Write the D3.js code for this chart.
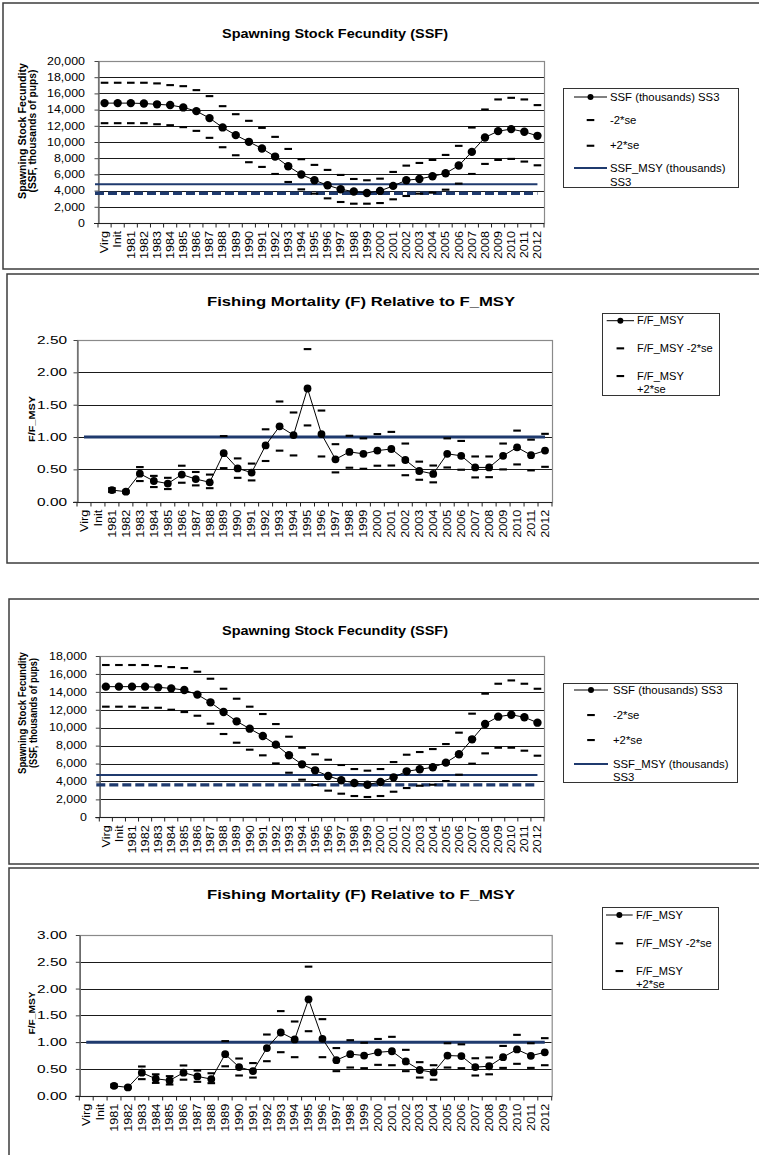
<!DOCTYPE html>
<html><head><meta charset="utf-8">
<script src="https://cdn.jsdelivr.net/npm/d3@7"></script>
<style>
body{margin:0;background:#fff}
svg{display:block}
text{font-family:"Liberation Sans",Arial,sans-serif;fill:#000}
</style>
</head><body>
<svg id="c" width="759" height="1155"></svg>
<script>
// ---------- DATA ----------
const categories = ["Virg","Init","1981","1982","1983","1984","1985","1986","1987","1988","1989","1990",
  "1991","1992","1993","1994","1995","1996","1997","1998","1999","2000","2001","2002","2003","2004",
  "2005","2006","2007","2008","2009","2010","2011","2012"];

// Panel 1: SSF (thousands) SS3
const ssfA = [14800,14800,14800,14750,14650,14560,14270,13810,12950,11800,10850,10020,9200,8200,7010,5980,5280,4660,4160,3880,3710,3960,4580,5280,5440,5770,6140,7090,8780,10560,11340,11590,11260,10760];
const ssfLoA = [12330,12330,12330,12330,12200,12080,11840,11380,10520,9360,8370,7510,6930,6060,5070,4160,3630,3050,2600,2390,2390,2470,2930,3340,3630,3750,4120,4870,6060,7300,7790,7920,7590,7130];
const ssfHiA = [17320,17320,17320,17320,17240,17030,16900,16410,15670,14430,13440,12620,11750,10640,9150,7880,7180,6560,5940,5440,5280,5480,6310,7090,7420,7790,8410,9530,11790,14020,15260,15460,15260,14560];
const ssfMsyA = 4780;
const ssfThreshA = 3670;
const ssfTicksA = [0,2000,4000,6000,8000,10000,12000,14000,16000,18000,20000];

// Panel 2: F/F_MSY
const fA = [null,null,0.18,0.155,0.433,0.32,0.28,0.42,0.35,0.30,0.75,0.515,0.45,0.87,1.165,1.03,1.75,1.046,0.655,0.77,0.74,0.79,0.815,0.645,0.475,0.43,0.74,0.71,0.53,0.53,0.71,0.84,0.72,0.79];
const fLoA = [null,null,0.15,0.14,0.32,0.227,0.196,0.294,0.253,0.21,0.52,0.37,0.33,0.63,0.79,0.716,1.18,0.70,0.454,0.526,0.51,0.557,0.56,0.41,0.34,0.30,0.53,0.495,0.376,0.38,0.50,0.577,0.485,0.54];
const fHiA = [null,null,0.21,0.17,0.536,0.40,0.37,0.557,0.46,0.42,1.015,0.67,0.59,1.12,1.55,1.38,2.36,1.41,0.89,1.02,0.98,1.046,1.08,0.90,0.62,0.56,0.98,0.94,0.70,0.70,0.90,1.10,0.96,1.05];
const fRefA = 1.0;
const fTicksA = [0,0.5,1.0,1.5,2.0,2.5];

// Panel 3: SSF (thousands) SS3
const ssfB = [14580,14580,14580,14580,14500,14390,14200,13690,12830,11750,10710,9890,9070,8110,6920,5910,5240,4610,4130,3830,3640,3940,4460,5130,5360,5580,6100,7030,8700,10410,11230,11450,11160,10560];
const ssfLoB = [12350,12350,12350,12230,12230,12010,11750,11340,10450,9300,8330,7550,6920,6020,4980,4200,3610,2980,2640,2380,2270,2380,2860,3270,3530,3640,4050,4760,5990,7140,7770,7770,7440,6880];
const ssfHiB = [17000,17000,17000,17000,16880,16770,16660,16250,15470,14350,13240,12350,11530,10410,9000,7770,7030,6430,5840,5390,5210,5390,6170,6990,7290,7620,8180,9450,11570,13800,14910,15280,14910,14350];
const ssfMsyB = 4720;
const ssfThreshB = 3610;
const ssfTicksB = [0,2000,4000,6000,8000,10000,12000,14000,16000,18000];

// Panel 4: F/F_MSY
const fB = [null,null,0.185,0.154,0.43,0.316,0.285,0.43,0.36,0.31,0.776,0.534,0.46,0.89,1.18,1.05,1.80,1.062,0.664,0.776,0.75,0.81,0.83,0.64,0.48,0.434,0.75,0.74,0.534,0.55,0.72,0.863,0.745,0.81];
const fLoB = [null,null,0.16,0.14,0.31,0.24,0.21,0.30,0.26,0.235,0.55,0.378,0.34,0.645,0.813,0.72,1.205,0.72,0.459,0.527,0.515,0.577,0.57,0.459,0.34,0.30,0.527,0.515,0.378,0.40,0.52,0.596,0.52,0.57];
const fHiB = [null,null,0.21,0.17,0.546,0.40,0.366,0.565,0.47,0.42,1.02,0.695,0.61,1.143,1.58,1.386,2.41,1.43,0.89,1.037,0.99,1.06,1.10,0.857,0.627,0.57,0.98,0.96,0.70,0.714,0.93,1.137,0.98,1.075];
const fRefB = 1.0;
const fTicksB = [0,0.5,1.0,1.5,2.0,2.5,3.0];

const titleSSF = "Spawning Stock Fecundity (SSF)";
const titleF = "Fishing Mortality (F) Relative to F_MSY";
const ylabSSF = ["Spawning Stock Fecundity", "(SSF, thousands of pups)"];
const ylabF = "F/F_MSY";
const legendSSF = ["SSF (thousands) SS3", "-2*se", "+2*se", "SSF_MSY (thousands)", "SS3"];
const legendF = ["F/F_MSY", "F/F_MSY -2*se", "F/F_MSY", "+2*se"];

// ---------- DRAW ----------
const NAVY = "#1f3a6e";
const svg = d3.select("#c");

function txt(g, x, y, s, o) {
  const t = g.append("text")
    .attr("text-anchor", o.anchor || "start")
    .style("font-size", o.size + "px")
    .style("font-weight", o.bold ? "bold" : "normal")
    .attr("dy", o.dy || null)
    .text(s);
  let sx = o.sx || 1;
  if (o.width) { const L = t.node().getComputedTextLength(); if (L > 0) sx = o.width / L; }
  t.attr("transform", `translate(${x},${y}) rotate(${o.rot || 0}) scale(${sx},1)`);
  return t;
}

function drawPanel(p) {
  const g = svg.append("g");
  g.append("rect").attr("x", p.frame[0]).attr("y", p.frame[1]).attr("width", p.frame[2]).attr("height", p.frame[3])
    .attr("fill", "#fff").attr("stroke", "#3c3c3c").attr("stroke-width", 1.5);

  const x = d3.scaleBand().domain(categories).range([p.x0, p.x1]);
  const y = d3.scaleLinear().domain([0, p.ticks[p.ticks.length - 1]]).range([p.yBot, p.yTop]);
  const cx = c => x(c) + x.bandwidth() / 2;

  // gridlines
  g.append("g").selectAll("line").data(p.ticks.slice(1, -1)).join("line")
    .attr("x1", p.x0).attr("x2", p.x1)
    .attr("y1", d => Math.round(y(d)) + 0.5).attr("y2", d => Math.round(y(d)) + 0.5)
    .attr("stroke", "#1a1a1a").attr("stroke-width", 1);
  // plot border
  g.append("rect").attr("x", p.x0 + 0.5).attr("y", Math.round(p.yTop) + 0.5)
    .attr("width", p.x1 - p.x0).attr("height", Math.round(p.yBot) - Math.round(p.yTop))
    .attr("fill", "none").attr("stroke", "#8a8a8a").attr("stroke-width", 1.2);

  // y axis
  const ya = g.append("g").attr("transform", `translate(${p.x0 + 0.5},0)`)
    .call(d3.axisLeft(y).tickValues(p.ticks).tickSize(4).tickSizeOuter(0).tickFormat(""));
  ya.select(".domain").attr("stroke", "#666").attr("stroke-width", 1.3);
  ya.selectAll(".tick line").attr("stroke", "#444");
  p.ticks.forEach(t => txt(g, p.tickRight, y(t), p.fmt(t), { size: p.tickSize, sx: p.tickSx, anchor: "end", dy: "0.35em" }));

  // x axis
  const yb = Math.round(p.yBot) + 0.5;
  g.append("line").attr("x1", p.x0 - 4).attr("x2", p.x1).attr("y1", yb).attr("y2", yb)
    .attr("stroke", "#222").attr("stroke-width", 1.2);
  const bounds = categories.map(c => x(c)).concat([x.range()[1]]);
  g.append("g").selectAll("line").data(bounds).join("line")
    .attr("x1", d => d).attr("x2", d => d).attr("y1", yb).attr("y2", yb + 4)
    .attr("stroke", "#222").attr("stroke-width", 1);
  categories.forEach(c => txt(g, cx(c), p.yBot + 8, c, { size: 10.8, sx: 1.17, anchor: "end", rot: -90, dy: "0.35em" }));

  // reference lines
  if (p.kind === "ssf") {
    const xs = x.range()[0] - 3, xe = cx(categories[categories.length - 1]);
    g.append("line").attr("x1", xs).attr("x2", xe).attr("y1", y(p.thresh)).attr("y2", y(p.thresh))
      .attr("stroke", NAVY).attr("stroke-width", 3.3).attr("stroke-dasharray", "9,4");
    g.append("line").attr("x1", xs).attr("x2", xe).attr("y1", y(p.msy)).attr("y2", y(p.msy))
      .attr("stroke", NAVY).attr("stroke-width", 2);
  } else {
    const xs = cx(categories[0]), xe = cx(categories[categories.length - 1]);
    g.append("line").attr("x1", xs).attr("x2", xe).attr("y1", y(p.ref)).attr("y2", y(p.ref))
      .attr("stroke", NAVY).attr("stroke-width", 3);
  }

  // ±2se dashes
  [p.lo, p.hi].forEach(arr => {
    g.append("g").selectAll("rect").data(categories.map((c, i) => ({ c, v: arr[i] })).filter(d => d.v != null))
      .join("rect").attr("x", d => cx(d.c) - 3.8).attr("y", d => y(d.v) - 1).attr("width", 7.6).attr("height", 2.1)
      .attr("fill", "#000");
  });

  // main series
  const pts = categories.map((c, i) => ({ c, v: p.values[i] }));
  g.append("path").datum(pts)
    .attr("d", d3.line().defined(d => d.v != null).x(d => cx(d.c)).y(d => y(d.v)))
    .attr("fill", "none").attr("stroke", "#000").attr("stroke-width", 1);
  g.append("g").selectAll("circle").data(pts.filter(d => d.v != null)).join("circle")
    .attr("cx", d => cx(d.c)).attr("cy", d => y(d.v)).attr("r", p.r).attr("fill", "#000");

  // title
  txt(g, p.titleX, p.titleY, p.title, { size: p.titleSize, bold: true, anchor: "middle", width: p.titleW });

  // y label
  p.ylab.forEach((s, i) => txt(g, p.ylabX[i], p.ylabY, s, { size: p.ylabSize, bold: true, anchor: "middle", rot: -90, width: p.ylabW[i] }));

  // legend
  const L = p.legend;
  g.append("rect").attr("x", L.x + 0.5).attr("y", L.y + 0.5).attr("width", L.w).attr("height", L.h)
    .attr("fill", "#fff").attr("stroke", "#333").attr("stroke-width", 1);
  const mx = (L.lx0 + L.lx1) / 2;
  const r = L.rows;
  g.append("line").attr("x1", L.lx0).attr("x2", L.lx1).attr("y1", r[0]).attr("y2", r[0]).attr("stroke", "#000").attr("stroke-width", 1);
  g.append("circle").attr("cx", mx).attr("cy", r[0]).attr("r", 3).attr("fill", "#000");
  g.append("rect").attr("x", mx - 3.8).attr("y", r[1] - 1).attr("width", 7.6).attr("height", 2.1).attr("fill", "#000");
  g.append("rect").attr("x", mx - 3.8).attr("y", r[2] - 1).attr("width", 7.6).attr("height", 2.1).attr("fill", "#000");
  if (p.kind === "ssf") {
    g.append("line").attr("x1", L.lx0).attr("x2", L.lx1).attr("y1", r[3]).attr("y2", r[3]).attr("stroke", NAVY).attr("stroke-width", 2);
  }
  p.legendText.forEach((s, i) => txt(g, L.tx, r[i], s, { size: 10.3, sx: L.sx, dy: "0.35em" }));
}

const fmtSSF = d3.format(",");
const fmtF = d3.format(".2f");

const panels = [
  { kind: "ssf", frame: [3, 3, 800, 266], x0: 98, x1: 544, yTop: 61, yBot: 223, ticks: ssfTicksA, fmt: fmtSSF,
    tickRight: 85, tickSize: 10.8, tickSx: 1.15, values: ssfA, lo: ssfLoA, hi: ssfHiA, msy: ssfMsyA, thresh: ssfThreshA, r: 4.2,
    title: titleSSF, titleX: 335, titleY: 37.5, titleSize: 12.2, titleW: 226,
    ylab: ylabSSF, ylabX: [25.5, 36], ylabY: 131, ylabSize: 10.3, ylabW: [136, 123],
    legend: { x: 563, y: 88, w: 175, h: 99, lx0: 574, lx1: 607, tx: 610, sx: 1.1, rows: [97, 120, 145.7, 168, 182.5] },
    legendText: legendSSF },
  { kind: "f", frame: [7, 274, 800, 289], x0: 77, x1: 552, yTop: 340, yBot: 501.7, ticks: fTicksA, fmt: fmtF,
    tickRight: 67, tickSize: 11.4, tickSx: 1.35, values: fA, lo: fLoA, hi: fHiA, ref: fRefA, r: 3.9,
    title: titleF, titleX: 361, titleY: 306, titleSize: 13.2, titleW: 308,
    ylab: [ylabF], ylabX: [34.5], ylabY: 419, ylabSize: 9, ylabW: [46],
    legend: { x: 602, y: 313, w: 117, h: 82, lx0: 606.7, lx1: 634, tx: 637, sx: 1.08, rows: [320.7, 348.3, 376, 389.3] },
    legendText: legendF },
  { kind: "ssf", frame: [9, 599, 800, 265], x0: 99.3, x1: 544, yTop: 656, yBot: 817.3, ticks: ssfTicksB, fmt: fmtSSF,
    tickRight: 87, tickSize: 10.8, tickSx: 1.15, values: ssfB, lo: ssfLoB, hi: ssfHiB, msy: ssfMsyB, thresh: ssfThreshB, r: 4.2,
    title: titleSSF, titleX: 335, titleY: 635, titleSize: 12.2, titleW: 226,
    ylab: ylabSSF, ylabX: [26, 37], ylabY: 713, ylabSize: 10.3, ylabW: [122, 110],
    legend: { x: 563, y: 683, w: 174, h: 99, lx0: 574, lx1: 608, tx: 613, sx: 1.1, rows: [690, 715, 740, 764, 777.3] },
    legendText: legendSSF },
  { kind: "f", frame: [9, 868, 800, 400], x0: 79.3, x1: 551.7, yTop: 935, yBot: 1095.7, ticks: fTicksB, fmt: fmtF,
    tickRight: 67, tickSize: 11.4, tickSx: 1.35, values: fB, lo: fLoB, hi: fHiB, ref: fRefB, r: 3.9,
    title: titleF, titleX: 361, titleY: 899, titleSize: 13.2, titleW: 308,
    ylab: [ylabF], ylabX: [34.5], ylabY: 1013, ylabSize: 9, ylabW: [43],
    legend: { x: 602, y: 907, w: 116, h: 82, lx0: 606, lx1: 632.7, tx: 636, sx: 1.08, rows: [915, 943.3, 971, 984] },
    legendText: legendF }
];

panels.forEach(drawPanel);
</script>
</body></html>
